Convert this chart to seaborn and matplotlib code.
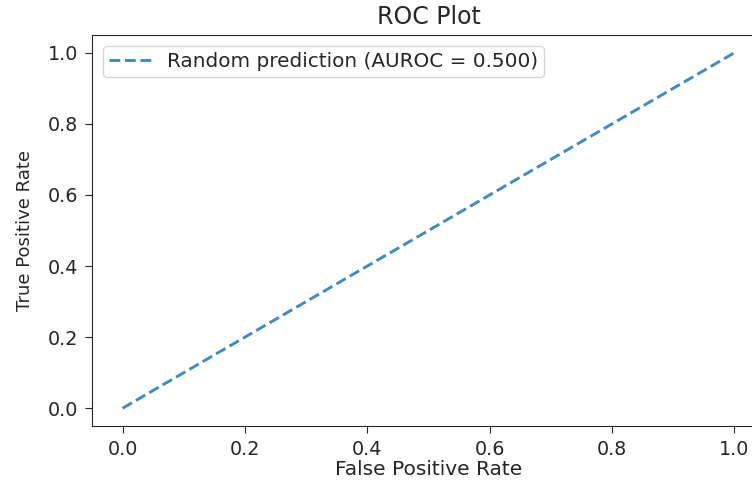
import matplotlib
matplotlib.use("Agg")
import matplotlib.pyplot as plt
import seaborn as sns
import numpy as np

# Baseline ROC curve of a random classifier
fpr = [0.0, 1.0]
tpr = [0.0, 1.0]
auroc = 0.500
label = f"Random prediction (AUROC = {auroc:.3f})"

sns.set_style("ticks")
plt.rcParams["font.family"] = ["DejaVu Sans"]
plt.rcParams["text.color"] = "#262626"

fig = plt.figure(figsize=(7.52, 4.84), dpi=100)
ax = fig.add_axes([0.1223, 0.1198, 0.895, 0.8079])

sns.lineplot(x=fpr, y=tpr, ax=ax, linestyle="--", color="#1f77b4", alpha=0.85,
             linewidth=2.1, label=label)

ax.set_xlim(-0.05, 1.05)
ax.set_ylim(-0.05, 1.05)
ax.set_xticks(np.arange(0, 1.01, 0.2))
ax.set_yticks(np.arange(0, 1.01, 0.2))
ax.tick_params(labelsize=13.8, colors="#262626", length=5, pad=5)
ax.set_title("ROC Plot", fontsize=17.0, color="#262626", pad=8)
ax.set_xlabel("False Positive Rate", fontsize=14.5, labelpad=1)
ax.set_ylabel("True Positive Rate", fontsize=13.0, labelpad=10)
for s in ax.spines.values():
    s.set_color("#262626")
ax.legend(loc="upper left", fontsize=14.4, handlelength=2.1, borderpad=0.3,
          borderaxespad=0.55)

fig.savefig("out.png", dpi=100)
